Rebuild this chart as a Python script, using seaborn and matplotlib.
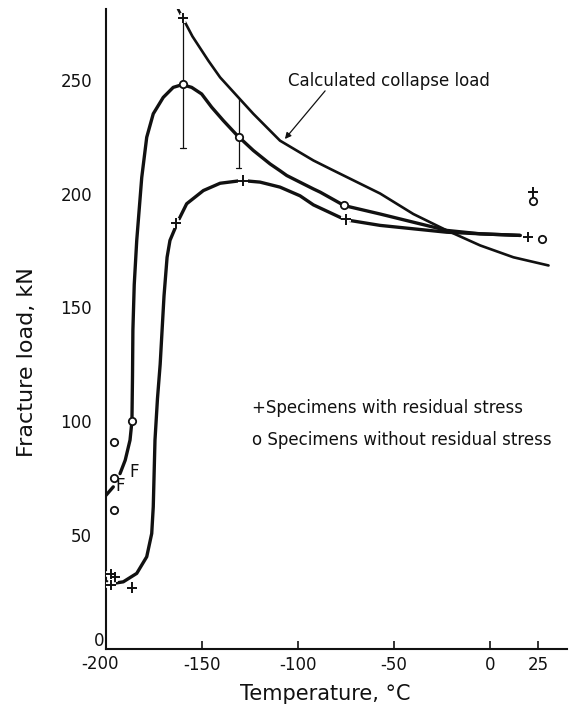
import numpy as np
import pandas as pd
import matplotlib
matplotlib.use("Agg")
import matplotlib.pyplot as plt
import matplotlib.patheffects as pe
import seaborn as sns

# values
collapse_t = [-162.5, -155, -146.7, -140.6, -131.1, -123.3, -116, -109.4, -100,
              -92, -83, -74.6, -57.3, -40, -22.6, -5.2, 12.1, 30.4]
collapse_load = [281, 269, 258.3, 251, 242.2, 235, 228.8, 223.2, 218.5,
                 214.5, 210.7, 207.2, 200, 191, 183.8, 177.2, 172, 168.4]

# curve for specimens without residual stress (two pieces, gap at the F marks)
no_res_t_a = [-200, -196.2]
no_res_load_a = [67.5, 71.2]
no_res_t_b = [-192.7, -190, -187.5, -186.5, -186.2, -186, -185.3, -184, -181.4,
              -178.8, -175.4, -170.2, -165, -160.3, -155.4, -150.2, -145, -138.9,
              -131.6, -123.3, -114.6, -109.4, -105.9, -97.2, -92, -88.5, -76,
              -57.3, -40, -22.6, -5.2, 15.6]
no_res_load_b = [77, 82.9, 91.7, 100, 120, 140, 160, 179.4, 207,
                 224.7, 235, 242.2, 246.6, 247.8, 246.6, 243.7, 237.9, 232,
                 225.4, 218.9, 213, 210, 207.9, 204.2, 202, 200.6, 194.7,
                 191, 187.4, 183.8, 182.3, 181.6]

# curve for specimens with residual stress
res_t = [-199.5, -196.2, -191, -184, -178.8, -176.2, -175.4, -174.5, -173.2,
         -171.8, -170.8, -169.8, -168.2, -166.7, -162.3, -158, -149.3, -140.6,
         -129.3, -119.8, -109.4, -99, -92, -75.5, -57.3, -40, -22.6, -5.2, 15.6]
res_load = [29.5, 28.8, 29.5, 33.2, 40.5, 50.7, 62.4, 91.7, 110,
            125, 140, 155, 172, 179.4, 188.2, 195.5, 201.3, 204.5,
            205.7, 205, 202.8, 199, 195, 188.5, 186, 184.5, 183, 182.3, 181.6]

# measured points
circ_t = [-196, -196, -196, -186.5, -160, -131, -76, 27, 22.5]
circ_load = [91, 75, 61, 100, 248, 225, 195, 180, 196.5]
plus_t = [-197.4, -195.3, -197.4, -186.5, -163.5, -160, -128.6, -75, 19.8, 22.4]
plus_load = [33, 31.5, 28, 27, 187, 277, 205.7, 188.6, 181, 200.5]

# scatter bands
band_t = [-160, -131]
band_low = [220, 211]
band_high = [277, 242]

x_ticks = [-150, -100, -50, 0, 25]
y_ticks = [50, 100, 150, 200, 250]

sns.set_style("ticks")
plt.rcParams["font.family"] = ["DejaVu Sans"]
plt.rcParams["axes.unicode_minus"] = False

fig = plt.figure(figsize=(5.73, 7.11), dpi=100)
ax = fig.add_axes([0.185, 0.0872, 0.8045, 0.9001])

black = "#111111"

sns.lineplot(x=collapse_t, y=collapse_load, ax=ax, color=black, lw=1.9,
             sort=False, estimator=None)
sns.lineplot(x=no_res_t_a, y=no_res_load_a, ax=ax, color=black, lw=2.4,
             sort=False, estimator=None)
sns.lineplot(x=no_res_t_b, y=no_res_load_b, ax=ax, color=black, lw=2.4,
             sort=False, estimator=None)
sns.lineplot(x=res_t, y=res_load, ax=ax, color=black, lw=2.4,
             sort=False, estimator=None)

# scatter bands
for t, lo, hi in zip(band_t, band_low, band_high):
    ax.plot([t, t], [lo, hi], color=black, lw=0.9)
    ax.plot([t - 1.5, t + 1.5], [lo, lo], color=black, lw=0.9)

sns.scatterplot(x=plus_t, y=plus_load, ax=ax, marker="+", s=55,
                color=black, linewidth=1.4, zorder=5)
ax.collections[-1].set_path_effects(
    [pe.Stroke(linewidth=4, foreground="white"), pe.Normal()])
sns.scatterplot(x=circ_t, y=circ_load, ax=ax, marker="o", s=28,
                facecolor="white", edgecolor=black, linewidth=1.3, zorder=6)

# F marks (failure)
ax.text(-192.4, 71.5, "F", fontsize=12, ha="center", va="center", color=black)
ax.text(-185.6, 77.5, "F", fontsize=12, ha="center", va="center", color=black)

# collapse load label with leader
ax.text(-105, 249.5, "Calculated collapse load", fontsize=12, ha="left",
        va="center", color=black)
ax.annotate("", xy=(-107.8, 223), xytext=(-85, 246),
            arrowprops=dict(arrowstyle="-|>", color=black, lw=0.9,
                            mutation_scale=9))

# key
ax.text(-124, 105.7, "+Specimens with residual stress", fontsize=12,
        ha="left", va="center", color=black)
ax.text(-124, 91.7, "o Specimens without residual stress", fontsize=12,
        ha="left", va="center", color=black)

ax.set_xlim(-200, 40)
ax.set_ylim(0, 281)
ax.set_xticks(x_ticks)
ax.set_yticks(y_ticks)
ax.tick_params(axis="x", direction="in", length=6, width=1.2, pad=5,
               labelsize=12, colors=black)
ax.tick_params(axis="y", length=0, pad=10, labelsize=12, colors=black)
# origin labels placed by hand as in the original drawing
ax.text(-203, -2.5, "-200", fontsize=12, ha="center", va="top", color=black)
ax.text(-201, 3.5, "0", fontsize=12, ha="right", va="center", color=black)

sns.despine(ax=ax)
for side in ["left", "bottom"]:
    ax.spines[side].set_linewidth(1.5)
    ax.spines[side].set_color(black)

ax.set_xlabel("Temperature, °C", fontsize=15, color=black)
ax.set_ylabel("Fracture load, kN", fontsize=16, color=black)
ax.xaxis.set_label_coords(0.475, -0.055)
ax.yaxis.set_label_coords(-0.15, 0.448)

fig.savefig("out.png", dpi=100)
